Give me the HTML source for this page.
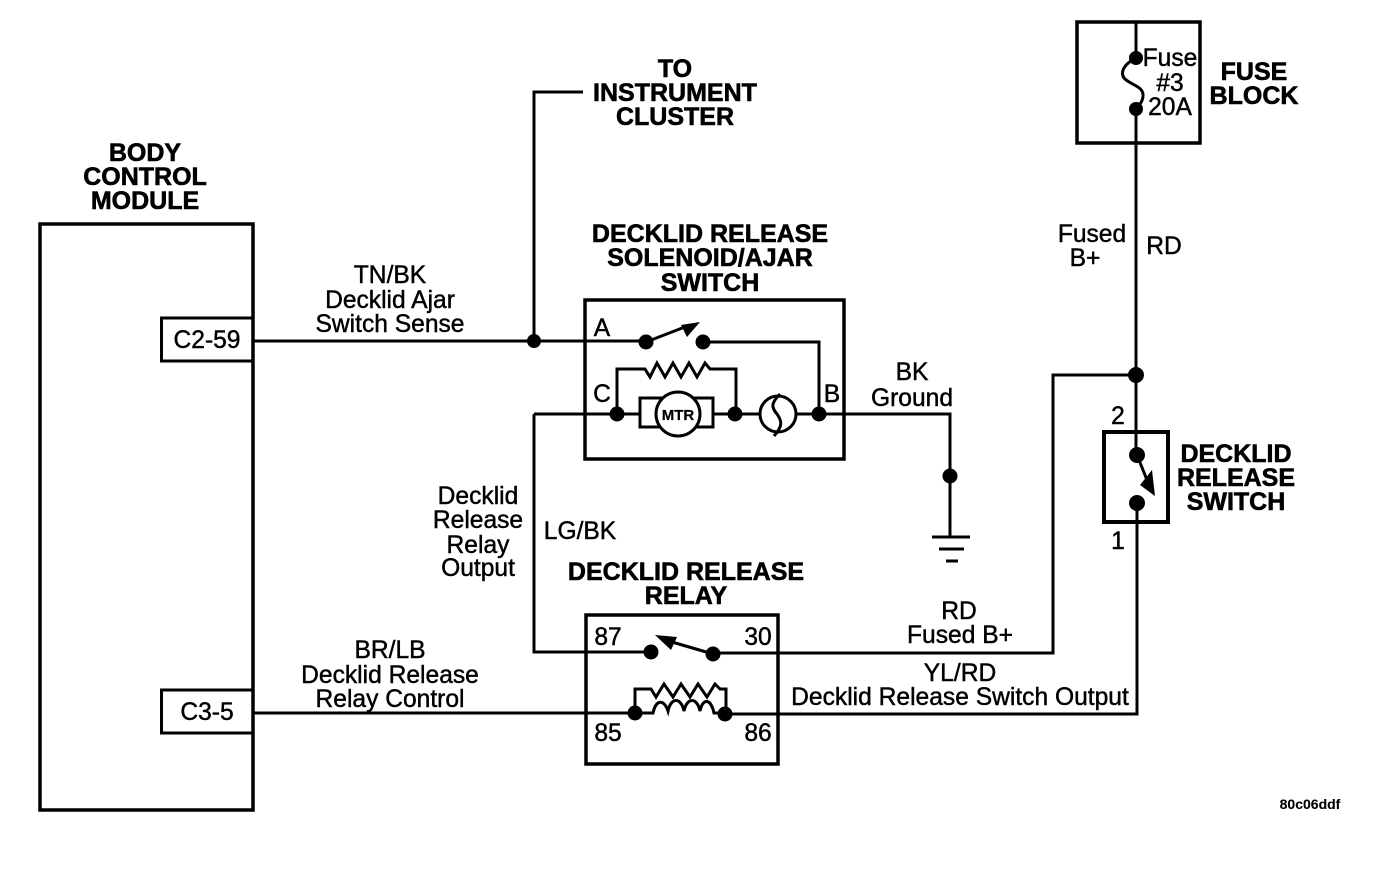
<!DOCTYPE html>
<html><head><meta charset="utf-8">
<style>
html,body{margin:0;padding:0;background:#fff;width:1376px;height:870px;overflow:hidden}
svg{display:block}
text{font-family:"Liberation Sans",Arial,sans-serif;font-size:24.6px;fill:#000;stroke:#000;stroke-width:.45px;text-anchor:middle}
text.b{font-weight:bold;font-size:25px;stroke-width:.6px}
.l{fill:none;stroke:#000;stroke-width:3}
.w{fill:none;stroke:#000;stroke-width:3}
</style></head><body>
<svg width="1376" height="870" viewBox="0 0 1376 870" xmlns="http://www.w3.org/2000/svg">
<rect width="1376" height="870" fill="#fff"/>
<!-- boxes -->
<rect class="l" x="40" y="224" width="213" height="586" style="stroke-width:3.500"/>
<rect class="l" x="161.500" y="318" width="91.500" height="43"/>
<rect class="l" x="161.500" y="690" width="91.500" height="43"/>
<rect class="l" x="585" y="300" width="259" height="159" style="stroke-width:3.500"/>
<rect class="l" x="586" y="615" width="192" height="149" style="stroke-width:3.500"/>
<rect class="l" x="1077" y="22" width="123" height="121" style="stroke-width:3.500"/>
<rect class="l" x="1104" y="432" width="64" height="90" style="stroke-width:4"/>
<!-- wires -->
<path class="w" d="M253 341H646M534 341V92H583"/>
<path class="w" d="M703 342H819V414"/>
<path class="w" d="M534 414H640M713 414H760M796 414H950V537M534 414V652H651"/>
<path class="w" d="M617 414V369H645l5 8 7 -14 8 14 8 -14 8 14 8 -14 8 14 8 -14 5 6H736V414"/>
<path class="w" d="M713 653H1053V375H1136"/>
<path class="w" d="M253 713H635M725 714H1137V508"/>
<path class="w" d="M635 713V689H651l5 8 8 -13 9 13 8 -13 9 13 8 -13 9 13 8 -13 5 5H726V713"/>
<path class="w" d="M635 713h18c3 -14 11 -14 15 -2 3 -14 13 -14 16 0 3 -14 13 -14 16 0 3 -14 11 -12 14 2h11"/>
<path class="w" d="M1136 22V58M1136 109V455M1137 508V522"/>
<path class="w" d="M1136 58C1124 64 1120 72 1124 78C1130 85 1144 86 1143 96C1143 102 1138 106 1136 109"/>
<!-- switch arms -->
<path class="w" d="M646 342L690 325"/><path d="M700 322L681 325 687 337Z"/>
<path class="w" d="M713 654L672 642"/><path d="M655 635L677 637 671 650Z"/>
<path class="w" d="M1137 455L1147 480"/><path d="M1155 496L1140 485 1152 470Z"/>
<!-- motor -->
<rect class="l" x="640" y="398" width="73" height="29" style="fill:#fff"/>
<circle class="l" cx="678" cy="414" r="22" style="fill:#fff"/>
<text x="678" y="420" style="font-size:15px;font-weight:bold;stroke-width:.2px">MTR</text>
<circle class="l" cx="778" cy="414" r="18" style="fill:#fff"/>
<path class="w" d="M780 394c-10 10 -8 14 -3 20 5 7 6 12 -3 22"/>
<!-- dots -->
<g fill="#000">
<circle cx="534" cy="341" r="7"/>
<circle cx="646" cy="342" r="7.500"/><circle cx="703" cy="342" r="7.500"/>
<circle cx="617" cy="414" r="7.500"/><circle cx="735" cy="414" r="7.500"/><circle cx="819" cy="414" r="7.500"/>
<circle cx="950" cy="476" r="7.500"/>
<circle cx="651" cy="652" r="7.500"/><circle cx="713" cy="654" r="7.500"/>
<circle cx="635" cy="713" r="7.500"/><circle cx="725" cy="714" r="7.500"/>
<circle cx="1136" cy="58" r="7"/><circle cx="1136" cy="109" r="7"/><circle cx="1136" cy="375" r="8"/>
<circle cx="1137" cy="455" r="8"/><circle cx="1137" cy="503" r="8"/>
</g>
<!-- ground -->
<path d="M932 537H970" stroke="#000" stroke-width="3"/>
<path d="M939 549H964" stroke="#000" stroke-width="3"/>
<path d="M946 561H958" stroke="#000" stroke-width="3"/>
<!-- bold labels -->
<text class="b" x="675" y="77">TO</text>
<text class="b" x="675" y="101">INSTRUMENT</text>
<text class="b" x="675" y="125">CLUSTER</text>
<text class="b" x="145" y="161">BODY</text>
<text class="b" x="145" y="185">CONTROL</text>
<text class="b" x="145" y="209">MODULE</text>
<text class="b" x="710" y="242">DECKLID RELEASE</text>
<text class="b" x="710" y="266">SOLENOID/AJAR</text>
<text class="b" x="710" y="291">SWITCH</text>
<text class="b" x="1254" y="80">FUSE</text>
<text class="b" x="1254" y="104">BLOCK</text>
<text class="b" x="1236" y="462">DECKLID</text>
<text class="b" x="1236" y="486">RELEASE</text>
<text class="b" x="1236" y="510">SWITCH</text>
<text class="b" x="686" y="580">DECKLID RELEASE</text>
<text class="b" x="686" y="604">RELAY</text>
<!-- regular labels -->
<text x="207" y="348">C2-59</text>
<text x="207" y="720">C3-5</text>
<text x="390" y="283">TN/BK</text>
<text x="390" y="308">Decklid Ajar</text>
<text x="390" y="332">Switch Sense</text>
<text x="1170" y="66">Fuse</text>
<text x="1170" y="91">#3</text>
<text x="1170" y="115">20A</text>
<text x="1092" y="242">Fused</text>
<text x="1085" y="266">B+</text>
<text x="1164" y="254">RD</text>
<text x="912" y="380">BK</text>
<text x="912" y="406">Ground</text>
<text x="602" y="336">A</text>
<text x="602" y="402">C</text>
<text x="832" y="402">B</text>
<text x="1118" y="424">2</text>
<text x="1118" y="549">1</text>
<text x="478" y="504">Decklid</text>
<text x="478" y="528">Release</text>
<text x="478" y="553">Relay</text>
<text x="478" y="576">Output</text>
<text x="580" y="539">LG/BK</text>
<text x="608" y="645">87</text>
<text x="758" y="645">30</text>
<text x="608" y="741">85</text>
<text x="758" y="741">86</text>
<text x="959" y="619">RD</text>
<text x="960" y="643">Fused B+</text>
<text x="960" y="681">YL/RD</text>
<text x="960" y="705">Decklid Release Switch Output</text>
<text x="390" y="658">BR/LB</text>
<text x="390" y="683">Decklid Release</text>
<text x="390" y="707">Relay Control</text>
<text x="1310" y="809" style="font-size:14px;font-weight:bold;stroke-width:.1px">80c06ddf</text>
</svg>
</body></html>
